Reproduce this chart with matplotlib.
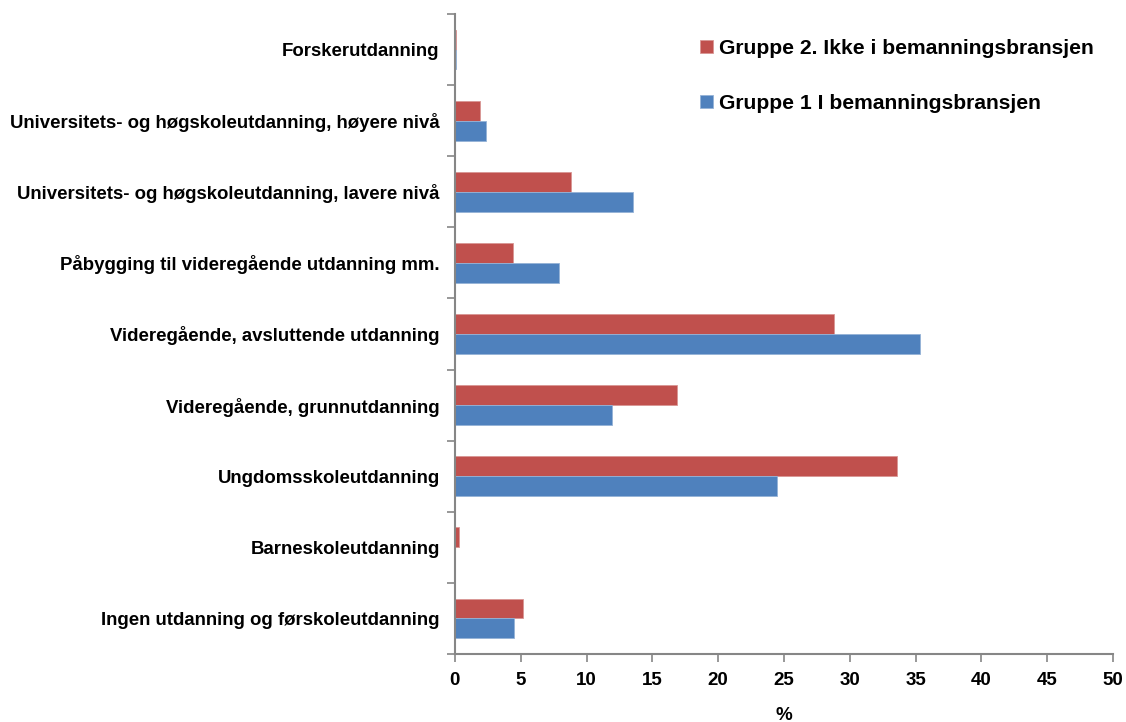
import matplotlib

matplotlib.use("Agg")

import matplotlib.pyplot as plt
import numpy as np


CATEGORIES = [
    "Ingen utdanning og førskoleutdanning",
    "Barneskoleutdanning",
    "Ungdomsskoleutdanning",
    "Videregående, grunnutdanning",
    "Videregående, avsluttende utdanning",
    "Påbygging til videregående utdanning mm.",
    "Universitets- og høgskoleutdanning, lavere nivå",
    "Universitets- og høgskoleutdanning, høyere nivå",
    "Forskerutdanning",
]
GROUP1_LABEL = "Gruppe 1 I bemanningsbransjen"
GROUP2_LABEL = "Gruppe 2. Ikke i bemanningsbransjen"
GROUP1 = [4.5, 0.0, 24.5, 11.9, 35.3, 7.9, 13.5, 2.4, 0.1]
GROUP2 = [5.2, 0.3, 33.6, 16.9, 28.8, 4.4, 8.8, 1.9, 0.1]
X_TICKS = [0, 5, 10, 15, 20, 25, 30, 35, 40, 45, 50]

RED = "#C0504D"
BLUE = "#4F81BD"
AXIS_GREY = "#868686"

plt.rcParams["font.family"] = ["Liberation Sans", "DejaVu Sans"]
plt.rcParams["font.weight"] = "bold"

fig = plt.figure(figsize=(11.26, 7.22), dpi=100)
ax = fig.add_axes([0.404, 0.0942, 0.5845, 0.8864])

y = np.arange(len(CATEGORIES))
h = 0.28
bars2 = ax.barh(y + h / 2, GROUP2, height=h, color=RED, edgecolor="#D99694",
                linewidth=0.6, label=GROUP2_LABEL)
bars1 = ax.barh(y - h / 2, GROUP1, height=h, color=BLUE, edgecolor="#95B3D7",
                linewidth=0.6, label=GROUP1_LABEL)

ax.set_xlim(0, 50)
ax.set_ylim(-0.5, len(CATEGORIES) - 0.5)
ax.set_xticks(X_TICKS)
ax.set_xticklabels([str(t) for t in X_TICKS], fontsize=13.5, fontweight="bold")
ax.set_yticks(y)
ax.set_yticklabels(CATEGORIES, fontsize=13.4, fontweight="bold")
ax.set_yticks(np.arange(-0.5, len(CATEGORIES)), minor=True)
ax.tick_params(axis="y", which="major", length=0, pad=11)
ax.tick_params(axis="y", which="minor", length=6, width=1.2, color=AXIS_GREY, direction="out")
ax.tick_params(axis="x", length=6, width=1.2, color=AXIS_GREY, direction="out", pad=7)
ax.set_xlabel("%", fontsize=13.5, fontweight="bold", labelpad=13)

for side in ("top", "right"):
    ax.spines[side].set_visible(False)
for side in ("left", "bottom"):
    ax.spines[side].set_color(AXIS_GREY)
    ax.spines[side].set_linewidth(1.5)

ax.legend(
    [bars2, bars1], [GROUP2_LABEL, GROUP1_LABEL],
    loc="upper left", bbox_to_anchor=(0.605, 0.972), bbox_transform=fig.transFigure,
    frameon=False, prop={"weight": "bold", "size": 15.2},
    handlelength=0.6, handleheight=0.6, handletextpad=0.29, labelspacing=1.7,
)

fig.savefig("out.png", dpi=100, facecolor="white")
